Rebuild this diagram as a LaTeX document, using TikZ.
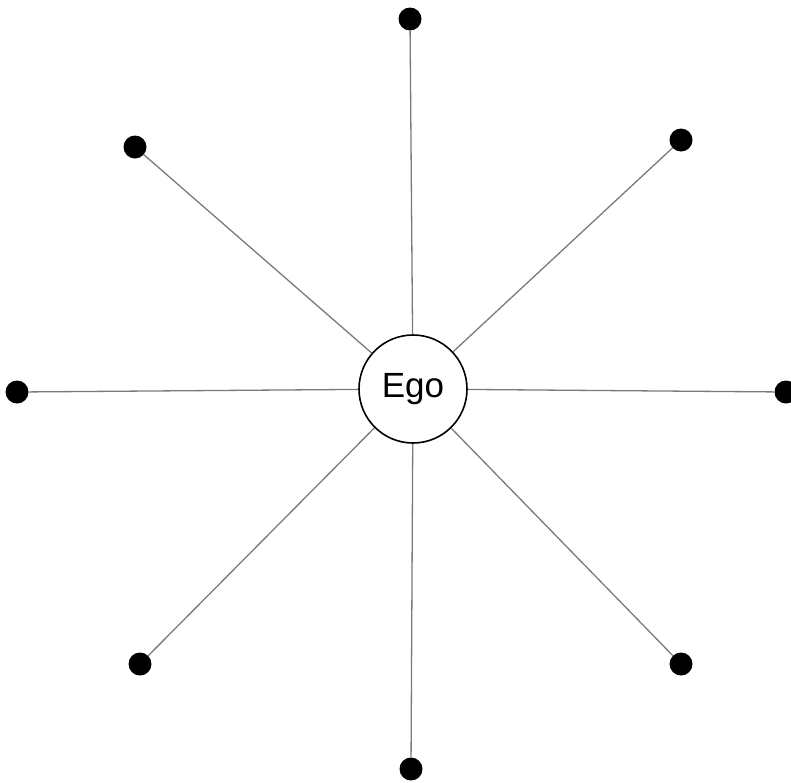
\documentclass[tikz,border=0pt]{standalone}
\usepackage{fontspec}
\setmainfont{Liberation Sans}
\usetikzlibrary{positioning}
\definecolor{EdgeGray}{HTML}{7A7A7A}
\tikzset{
  ego/.style={draw=black, line width=1.6pt, fill=white, circle, minimum size=108pt,
              inner sep=0pt, font=\fontsize{35}{40}\selectfont},
  alter/.style={circle, fill=black, minimum size=23pt, inner sep=0pt},
  tie/.style={line width=1.3pt, EdgeGray},
}
\begin{document}
\begin{tikzpicture}[x=1pt, y=-1pt]
  \useasboundingbox (0,0) rectangle (791,782);
  \node[ego] (ego) at (413,389) {Ego};
  \node[alter] (n) at (410,19) {};
  \node[alter] (ne) at (681,140) {};
  \node[alter] (e) at (786,392) {};
  \node[alter] (se) at (681,664) {};
  \node[alter] (s) at (411,769) {};
  \node[alter] (sw) at (140,664) {};
  \node[alter] (w) at (17,392) {};
  \node[alter] (nw) at (135,147) {};
  \foreach \a in {n,ne,e,se,s,sw,w,nw}
    \draw[tie] (ego) -- (\a);
\end{tikzpicture}
\end{document}
